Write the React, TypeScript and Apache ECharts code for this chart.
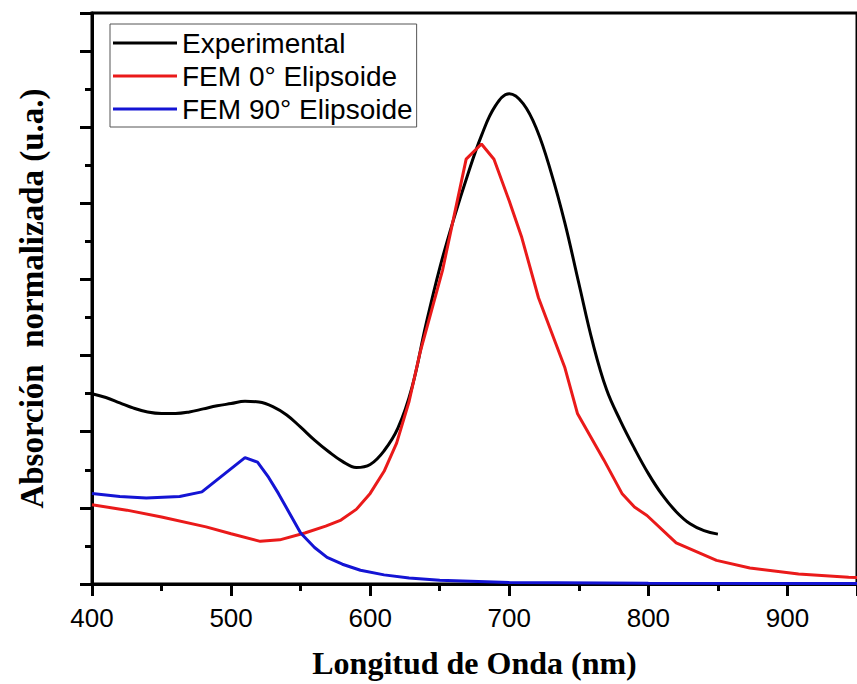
import React, { useEffect, useRef } from "react";
import * as echarts from "echarts";

// Wavelength (nm) and normalized absorption (a.u., 1 unit = one major y tick)
const expX = [400, 410, 420, 430, 440, 450, 460, 470, 480, 490, 500, 510, 520, 530, 540, 550, 560, 570, 580, 590, 600, 610, 620, 630, 640, 650, 660, 670, 680, 690, 700, 710, 720, 730, 740, 750, 760, 770, 780, 790, 800, 810, 820, 830, 840, 850];
const expY = [2.50, 2.45, 2.38, 2.31, 2.26, 2.24, 2.24, 2.26, 2.30, 2.34, 2.37, 2.40, 2.39, 2.33, 2.22, 2.06, 1.89, 1.74, 1.61, 1.53, 1.57, 1.75, 2.05, 2.58, 3.40, 4.15, 4.79, 5.37, 5.89, 6.28, 6.44, 6.31, 5.96, 5.41, 4.74, 3.95, 3.17, 2.55, 2.14, 1.78, 1.45, 1.17, 0.95, 0.79, 0.70, 0.655];

const fem0X = [400, 425, 450, 482, 500, 521, 535, 553, 568, 579, 590, 600, 610, 619, 628, 636, 652, 669, 680, 689, 700, 709, 721, 740, 749, 768, 781, 790, 799, 820, 849, 873, 908, 944, 950];
const fem0Y = [1.04, 0.97, 0.88, 0.75, 0.66, 0.56, 0.58, 0.67, 0.76, 0.84, 0.98, 1.19, 1.48, 1.85, 2.40, 3.05, 4.12, 5.58, 5.78, 5.58, 5.03, 4.55, 3.76, 2.84, 2.24, 1.63, 1.19, 1.01, 0.90, 0.54, 0.31, 0.21, 0.13, 0.09, 0.085];

const fem90X = [400, 420, 439, 463, 479, 510, 519, 527, 534, 542, 550, 560, 569, 580, 593, 610, 628, 650, 700, 800, 950];
const fem90Y = [1.19, 1.15, 1.13, 1.15, 1.21, 1.66, 1.60, 1.40, 1.19, 0.93, 0.67, 0.48, 0.35, 0.26, 0.18, 0.12, 0.08, 0.05, 0.02, 0.01, 0.005];

const seriesNames = ["Experimental", "FEM 0° Elipsoide", "FEM 90° Elipsoide"];
const xTitle = "Longitud de Onda (nm)";
const yTitle = "Absorción  normalizada (u.a.)";

const pairs = (xs: number[], ys: number[]) => xs.map((x, i) => [x, ys[i]]);

export default function App() {
  const ref = useRef<HTMLDivElement>(null);
  useEffect(() => {
    if (!ref.current) return;
    const chart = echarts.init(ref.current, null, { renderer: "svg" });
    const sans = "Liberation Sans, Arial, sans-serif";
    const serif = "Liberation Serif, Times New Roman, serif";
    chart.setOption({
      animation: false,
      backgroundColor: "#ffffff",
      grid: {
        left: 92,
        top: 13,
        width: 773,
        height: 571,
        show: true,
        borderColor: "#000",
        borderWidth: 3,
        backgroundColor: "transparent",
      },
      legend: {
        orient: "vertical",
        left: 110,
        top: 24,
        icon: "rect",
        itemWidth: 64,
        itemHeight: 3,
        itemGap: 5,
        padding: [5, 4, 4, 3],
        borderColor: "#555",
        borderWidth: 1,
        textStyle: { fontSize: 28, fontFamily: sans, color: "#000" },
        data: seriesNames,
      },
      xAxis: {
        type: "value",
        min: 400,
        max: 950,
        interval: 100,
        name: xTitle,
        nameLocation: "middle",
        nameGap: 63,
        nameTextStyle: { fontSize: 32, fontWeight: "bold", fontFamily: serif, color: "#000" },
        axisLine: { show: true, onZero: false, lineStyle: { color: "#000", width: 3 } },
        axisTick: { show: true, inside: false, length: 12, lineStyle: { color: "#000", width: 3 } },
        minorTick: { show: true, splitNumber: 2, length: 7, lineStyle: { color: "#000", width: 3 } },
        axisLabel: { fontSize: 26, fontFamily: sans, color: "#000", margin: 21, showMaxLabel: false },
        splitLine: { show: false },
      },
      yAxis: {
        type: "value",
        min: 0,
        max: 7.5,
        interval: 1,
        name: yTitle,
        nameLocation: "middle",
        nameGap: 44,
        nameRotate: 90,
        nameTextStyle: { fontSize: 33, fontWeight: "bold", fontFamily: serif, color: "#000" },
        axisLine: { show: true, onZero: false, lineStyle: { color: "#000", width: 3 } },
        axisTick: { show: true, inside: false, length: 12, lineStyle: { color: "#000", width: 3 } },
        minorTick: { show: true, splitNumber: 2, length: 7, lineStyle: { color: "#000", width: 3 } },
        axisLabel: { show: false },
        splitLine: { show: false },
      },
      series: [
        {
          name: seriesNames[0],
          type: "line",
          data: pairs(expX, expY),
          smooth: 0.4,
          showSymbol: false,
          symbol: "none",
          color: "#000000",
          lineStyle: { color: "#000000", width: 3 },
        },
        {
          name: seriesNames[1],
          type: "line",
          data: pairs(fem0X, fem0Y),
          smooth: false,
          showSymbol: false,
          symbol: "none",
          color: "#ea1a1a",
          lineStyle: { color: "#ea1a1a", width: 3 },
        },
        {
          name: seriesNames[2],
          type: "line",
          data: pairs(fem90X, fem90Y),
          smooth: false,
          showSymbol: false,
          symbol: "none",
          color: "#1414d4",
          lineStyle: { color: "#1414d4", width: 3 },
        },
      ],
    });
    return () => chart.dispose();
  }, []);
  return (
    <div
      ref={ref}
      style={{ position: "absolute", left: 0, top: 0, width: 857, height: 684, background: "#fff" }}
    />
  );
}
